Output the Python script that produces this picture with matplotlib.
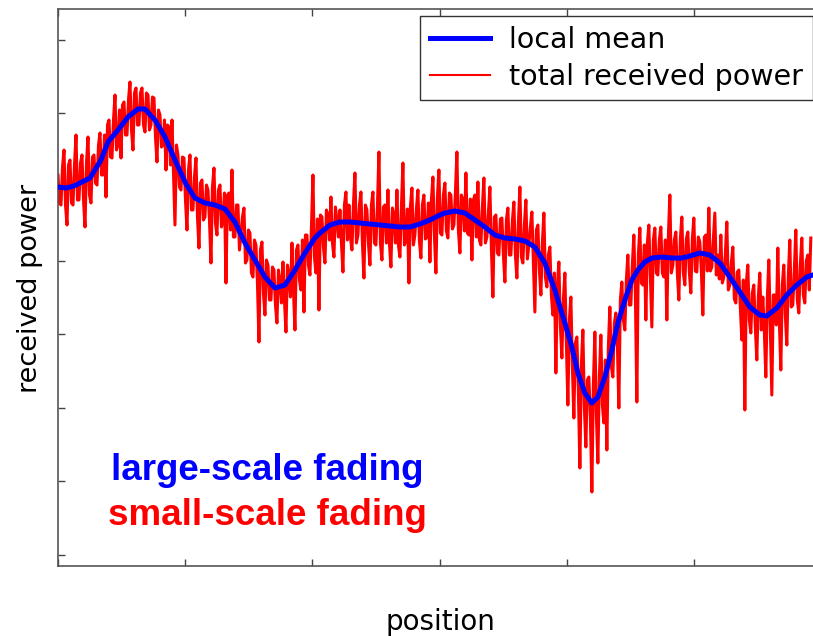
import numpy as np
import matplotlib; matplotlib.use("Agg"); import matplotlib.pyplot as plt

# local mean (large-scale) - position / level in arbitrary units
blue_x = [0, 8, 16, 24, 32, 43, 50, 60, 70, 80, 87, 97, 107, 117, 128, 137, 147, 157, 167, 177,
          187, 197, 207, 217, 227, 237, 247, 257, 262, 272, 282, 292, 302, 312, 322, 332, 342, 352, 362, 372,
          382, 387, 397, 407, 417, 427, 437, 447, 457, 467, 477, 487, 497, 507, 514, 520, 527, 534, 540, 547,
          554, 560, 567, 574, 580, 587, 594, 604, 614, 624, 632, 642, 652, 662, 672, 682, 692, 702, 709, 719,
          729, 739, 749, 755]
blue_y = [368, 367, 369, 373, 377, 395, 413, 425, 438, 446, 446, 435, 418, 395, 371, 357, 352, 350, 346, 333,
          312, 295, 278, 267, 270, 285, 302, 317, 322, 330, 333, 333, 332, 331, 330, 329, 328, 328, 331, 335,
          340, 342, 344, 342, 335, 328, 320, 317, 316, 314, 308, 292, 265, 232, 208, 182, 162, 152, 158, 178,
          205, 232, 255, 275, 285, 293, 297, 298, 297, 297, 299, 302, 300, 292, 278, 263, 248, 240, 239, 247,
          260, 270, 278, 280]

# total received power: spike samples at x = 0, 3, 6, ... and in-between samples at x = 1.5, 4.5, ...
red_step = 1.5
red_peak = [380, 350, 405, 330, 395, 350, 420, 355, 400, 328,
            418, 352, 400, 370, 422, 380, 358, 435, 397, 460,
            410, 397, 453, 420, 473, 405, 467, 430, 467, 423,
            460, 430, 457, 393, 440, 410, 385, 428, 435, 330,
            400, 365, 397, 325, 400, 345, 397, 307, 375, 338,
            365, 292, 387, 320, 370, 335, 272, 362, 385, 318,
            350, 320, 347, 295, 322, 278, 310, 213, 313, 240,
            290, 255, 285, 232, 275, 293, 223, 280, 312, 225,
            310, 265, 243, 320, 280, 380, 282, 245, 338, 292,
            340, 358, 298, 335, 345, 283, 363, 350, 305, 382,
            320, 363, 277, 345, 290, 363, 310, 403, 295, 350,
            365, 288, 340, 365, 298, 392, 315, 272, 367, 320,
            365, 297, 360, 318, 293, 378, 282, 385, 320, 372,
            317, 360, 330, 403, 302, 355, 382, 320, 295, 360,
            373, 310, 377, 318, 368, 258, 340, 300, 337, 273,
            347, 300, 353, 277, 368, 292, 355, 310, 343, 243,
            330, 260, 342, 268, 308, 240, 182, 293, 197, 282,
            150, 258, 137, 218, 87, 225, 108, 178, 63, 223,
            92, 220, 132, 105, 248, 178, 242, 147, 273, 225,
            300, 250, 320, 153, 327, 270, 235, 330, 228, 327,
            280, 328, 278, 235, 360, 290, 323, 255, 338, 270,
            323, 262, 337, 283, 313, 240, 320, 347, 288, 342,
            300, 320, 278, 333, 270, 308, 252, 285, 215, 145,
            290, 222, 270, 195, 282, 258, 178, 295, 160, 260,
            307, 185, 290, 210, 315, 250, 325, 242, 317, 252, 300, 317]
red_mid = [352, 388, 350, 390, 352, 390, 355, 392, 355, 392,
           360, 398, 372, 410, 380, 420, 430, 398, 435, 405,
           445, 450, 420, 455, 425, 462, 430, 462, 430, 462,
           425, 458, 418, 445, 408, 435, 430, 390, 382, 410,
           368, 398, 355, 385, 345, 378, 338, 372, 335, 370,
           335, 368, 332, 365, 328, 362, 360, 325, 318, 350,
           305, 338, 292, 325, 282, 315, 272, 305, 262, 295,
           255, 288, 250, 285, 252, 255, 290, 258, 265, 305,
           275, 315, 320, 290, 328, 298, 336, 340, 308, 345,
           315, 312, 348, 318, 312, 350, 315, 318, 350, 312,
           350, 312, 350, 312, 350, 312, 348, 312, 348, 312,
           312, 347, 312, 310, 348, 310, 346, 348, 310, 346,
           314, 350, 316, 352, 355, 320, 358, 322, 360, 324,
           362, 326, 362, 325, 360, 324, 322, 356, 355, 318,
           315, 348, 312, 342, 307, 338, 302, 336, 300, 335,
           300, 334, 300, 332, 298, 330, 296, 328, 294, 325,
           285, 312, 278, 300, 260, 282, 270, 230, 255, 212,
           235, 190, 212, 165, 190, 148, 175, 138, 170, 140,
           178, 150, 195, 208, 188, 232, 212, 255, 235, 275,
           250, 290, 262, 300, 272, 310, 312, 280, 315, 282,
           315, 282, 315, 318, 282, 315, 282, 316, 282, 316,
           283, 316, 284, 318, 285, 318, 284, 284, 315, 280,
           276, 272, 300, 265, 292, 256, 283, 248, 275, 272,
           235, 262, 228, 258, 225, 224, 256, 226, 260, 230,
           235, 270, 240, 278, 248, 284, 255, 290, 260, 294, 265]
red_y = np.empty(len(red_peak) + len(red_mid))
red_y[0::2] = red_peak
red_y[1::2] = red_mid
red_x = np.arange(len(red_y)) * red_step

x_ticks = np.arange(7) * 127.2
y_ticks = np.arange(8) * 73.6

fig = plt.figure(figsize=(8.13, 6.36), dpi=100)
ax = fig.add_axes([58/813, 70/636, 763/813, 557/636])

ax.plot(red_x, red_y, color="#ff0000", lw=2.2, zorder=2, label="total received power")
ax.plot(blue_x, blue_y, color="#0000ff", lw=3.6, zorder=3, label="local mean",
        solid_joinstyle="round")

ax.set_xlim(0, 763); ax.set_ylim(-11, 546)
ax.set_xticks(x_ticks); ax.set_yticks(y_ticks)
ax.set_xticklabels([]); ax.set_yticklabels([])
ax.tick_params(direction="in", length=5, width=1, color="#444", top=True, right=True)
for s in ax.spines.values():
    s.set_color("#555"); s.set_linewidth(1.2)

h, l = ax.get_legend_handles_labels()
leg = ax.legend(h[::-1], l[::-1], loc="upper right", bbox_to_anchor=(0.9895, 0.9874), borderaxespad=0,
                fancybox=False, framealpha=1, edgecolor="#333", prop=dict(family="DejaVu Sans", size=20.5),
                handlelength=2.1, handletextpad=0.67, labelspacing=0.3, borderpad=0.35)
leg.get_frame().set_linewidth(1.0)
leg.get_lines()[1].set_linewidth(1.5)

ax.text(209, 75, "large-scale fading", color="#0000ff", fontsize=26.5, fontweight="bold",
        family="Liberation Sans", ha="center", va="baseline")
ax.text(209, 30, "small-scale fading", color="#ff0000", fontsize=26.5, fontweight="bold",
        family="Liberation Sans", ha="center", va="baseline")

fig.text(30/813, 1 - 288/636, "received power", rotation=90, fontsize=19.5, family="DejaVu Sans",
         ha="center", va="center")
fig.text(440/813, 1 - 622/636, "position", fontsize=20, family="DejaVu Sans", ha="center", va="center")

fig.savefig("out.png", dpi=100)
